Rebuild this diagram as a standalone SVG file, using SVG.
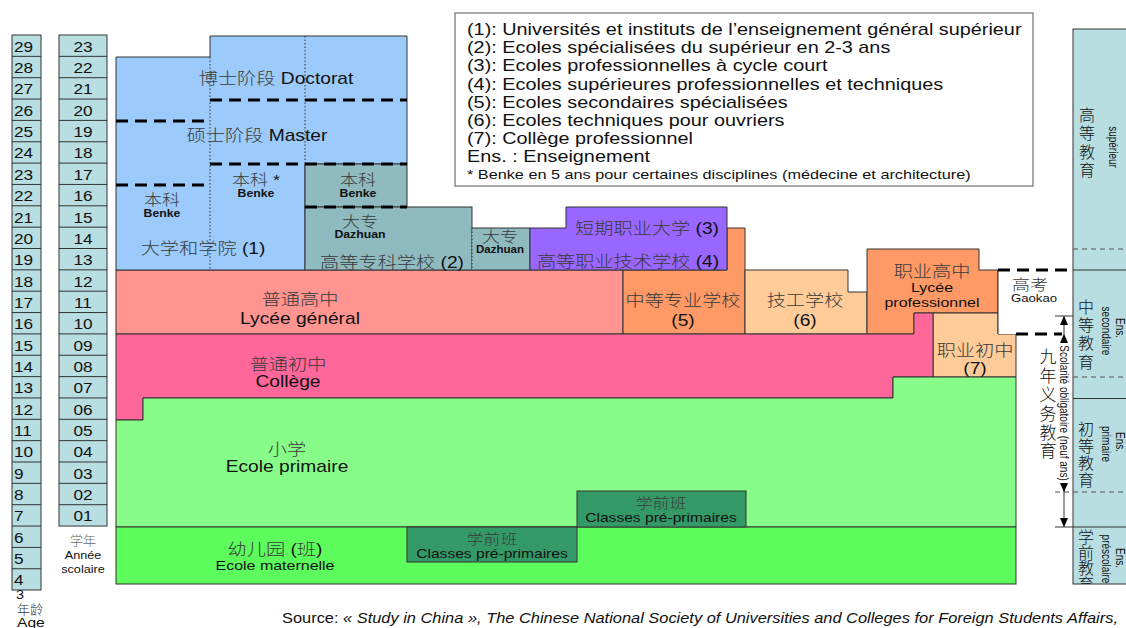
<svg xmlns="http://www.w3.org/2000/svg" width="1126" height="628" viewBox="0 0 1126 628">
<style>
text { font-family: "Liberation Sans", "Noto Sans CJK SC", sans-serif; fill: #111; }
.m { text-anchor: middle; }
.k { fill: #3a3a3a; font-weight: 300; }
.b { font-weight: bold; }
.f16 { font-size: 16px; }
.f15 { font-size: 15px; }
.f14 { font-size: 14px; }
.f13 { font-size: 13px; }
.f11 { font-size: 11px; }
.f10 { font-size: 10px; }
.blk { stroke: #333; stroke-width: 1; }
.col { fill: #b8dee2; stroke: #333; stroke-width: 1; }
.dash { stroke: #000; stroke-width: 3; stroke-dasharray: 12 7; fill: none; }
.dot { stroke: #333; stroke-width: 1; stroke-dasharray: 1.5 2; fill: none; }
.gdash { stroke: #555; stroke-width: 1; stroke-dasharray: 5 4; fill: none; }
.line { stroke: #333; stroke-width: 1; fill: none; }
</style>
<defs>
<clipPath id="rc"><rect x="1073" y="29" width="53" height="555"/></clipPath>
</defs>
<rect width="1126" height="628" fill="#fff"/>

<!-- Age column -->
<g id="age-column">
<rect class="col" x="12" y="35" width="29" height="555"/>
<path class="line" d="M12 56.35H41M12 77.7H41M12 99.05H41M12 120.4H41M12 141.75H41M12 163.1H41M12 184.45H41M12 205.8H41M12 227.15H41M12 248.5H41M12 269.85H41M12 291.2H41M12 312.55H41M12 333.9H41M12 355.25H41M12 376.6H41M12 397.95H41M12 419.3H41M12 440.65H41M12 462H41M12 483.35H41M12 504.7H41M12 526.05H41M12 547.4H41M12 568.75H41"/>
<g class="f14">
<text transform="translate(14 51.5) scale(1.23 1)">29</text>
<text transform="translate(14 73) scale(1.23 1)">28</text>
<text transform="translate(14 94) scale(1.23 1)">27</text>
<text transform="translate(14 115.5) scale(1.23 1)">26</text>
<text transform="translate(14 137) scale(1.23 1)">25</text>
<text transform="translate(14 158) scale(1.23 1)">24</text>
<text transform="translate(14 179.5) scale(1.23 1)">23</text>
<text transform="translate(14 201) scale(1.23 1)">22</text>
<text transform="translate(14 222.5) scale(1.23 1)">21</text>
<text transform="translate(14 243.5) scale(1.23 1)">20</text>
<text transform="translate(14 265) scale(1.23 1)">19</text>
<text transform="translate(14 286.5) scale(1.23 1)">18</text>
<text transform="translate(14 307.5) scale(1.23 1)">17</text>
<text transform="translate(14 329) scale(1.23 1)">16</text>
<text transform="translate(14 350.5) scale(1.23 1)">15</text>
<text transform="translate(14 371.5) scale(1.23 1)">14</text>
<text transform="translate(14 393) scale(1.23 1)">13</text>
<text transform="translate(14 414.5) scale(1.23 1)">12</text>
<text transform="translate(14 436) scale(1.23 1)">11</text>
<text transform="translate(14 457) scale(1.23 1)">10</text>
<text transform="translate(14 478.5) scale(1.23 1)">9</text>
<text transform="translate(14 500) scale(1.23 1)">8</text>
<text transform="translate(14 521) scale(1.23 1)">7</text>
<text transform="translate(14 542.5) scale(1.23 1)">6</text>
<text transform="translate(14 564) scale(1.23 1)">5</text>
<text transform="translate(14 585) scale(1.23 1)">4</text>
</g>
<text class="f13" style="font-size:12px" transform="translate(16 599) scale(1.2 1)">3</text>
<text class="f13 k" x="17" y="614">年龄</text>
<text class="f13" transform="translate(17 627) scale(1.2 1)">Age</text>
</g>

<!-- Grade column -->
<g id="grade-column">
<rect class="col" x="59" y="35" width="48" height="491.05"/>
<path class="line" d="M59 56.35H107M59 77.7H107M59 99.05H107M59 120.4H107M59 141.75H107M59 163.1H107M59 184.45H107M59 205.8H107M59 227.15H107M59 248.5H107M59 269.85H107M59 291.2H107M59 312.55H107M59 333.9H107M59 355.25H107M59 376.6H107M59 397.95H107M59 419.3H107M59 440.65H107M59 462H107M59 483.35H107M59 504.7H107"/>
<g class="f14 m">
<text transform="translate(83 51.5) scale(1.23 1)">23</text>
<text transform="translate(83 73) scale(1.23 1)">22</text>
<text transform="translate(83 94) scale(1.23 1)">21</text>
<text transform="translate(83 115.5) scale(1.23 1)">20</text>
<text transform="translate(83 137) scale(1.23 1)">19</text>
<text transform="translate(83 158) scale(1.23 1)">18</text>
<text transform="translate(83 179.5) scale(1.23 1)">17</text>
<text transform="translate(83 201) scale(1.23 1)">16</text>
<text transform="translate(83 222.5) scale(1.23 1)">15</text>
<text transform="translate(83 243.5) scale(1.23 1)">14</text>
<text transform="translate(83 265) scale(1.23 1)">13</text>
<text transform="translate(83 286.5) scale(1.23 1)">12</text>
<text transform="translate(83 307.5) scale(1.23 1)">11</text>
<text transform="translate(83 329) scale(1.23 1)">10</text>
<text transform="translate(83 350.5) scale(1.23 1)">09</text>
<text transform="translate(83 371.5) scale(1.23 1)">08</text>
<text transform="translate(83 393) scale(1.23 1)">07</text>
<text transform="translate(83 414.5) scale(1.23 1)">06</text>
<text transform="translate(83 436) scale(1.23 1)">05</text>
<text transform="translate(83 457) scale(1.23 1)">04</text>
<text transform="translate(83 478.5) scale(1.23 1)">03</text>
<text transform="translate(83 500) scale(1.23 1)">02</text>
<text transform="translate(83 521) scale(1.23 1)">01</text>
</g>
<text class="f13 m k" x="83" y="545" fill-opacity="0.8">学年</text>
<text class="f11 m" transform="translate(83 559) scale(1.15 1)">Année</text>
<text class="f11 m" transform="translate(83 573) scale(1.15 1)">scolaire</text>
</g>

<!-- Lycee general (drawn first so upper labels stay on top) -->
<g id="lycee">
<rect class="blk" fill="#ff9490" x="116" y="270" width="507" height="64"/>
<text class="f16 m k" transform="translate(300 305) scale(1.2 1)">普通高中</text>
<text class="f16 m" transform="translate(300 324) scale(1.2 1)">Lycée général</text>
</g>

<!-- Higher education: universities (1) -->
<g id="universites">
<polygon class="blk" fill="#9ccafb" points="116,57 210,57 210,36 407,36 407,164 305,164 305,270 116,270"/>
<path class="dot" d="M210 57V270M305 36V164"/>
<text class="f16 m" transform="translate(276 84) scale(1.2 1)"><tspan class="k">博士阶段</tspan> Doctorat</text>
<text class="f16 m" transform="translate(257 141) scale(1.2 1)"><tspan class="k">硕士阶段</tspan> Master</text>
<text class="f15 m k" transform="translate(162 205) scale(1.2 1)">本科</text>
<text class="f10 m b" transform="translate(162 217) scale(1.23 1)">Benke</text>
<text class="f15 m" transform="translate(256 185) scale(1.2 1)"><tspan class="k">本科</tspan> *</text>
<text class="f10 m b" transform="translate(256 197) scale(1.23 1)">Benke</text>
<text class="f16 m" transform="translate(203 254) scale(1.2 1)"><tspan class="k">大学和学院</tspan> (1)</text>
</g>

<!-- Benke (gray) -->
<g id="benke-gray">
<rect class="blk" fill="#8fbabf" x="305" y="164" width="102" height="43"/>
<text class="f15 m k" transform="translate(358 185) scale(1.2 1)">本科</text>
<text class="f10 m b" transform="translate(358 197) scale(1.23 1)">Benke</text>
</g>

<!-- Gaozhuan (2) -->
<g id="gaozhuan">
<rect class="blk" fill="#8fbabf" x="305" y="207" width="167" height="63"/>
<text class="f15 m k" transform="translate(360 227) scale(1.2 1)">大专</text>
<text class="f10 m b" transform="translate(360 238) scale(1.23 1)">Dazhuan</text>
<text class="f16 m" transform="translate(392 268) scale(1.2 1)"><tspan class="k">高等专科学校</tspan> (2)</text>
</g>

<!-- Dazhuan small -->
<g id="dazhuan">
<rect fill="#8fbabf" x="472" y="228" width="58" height="42"/>
<path class="line" d="M472 228H530V270H472"/>
<path class="dot" d="M472 228V270"/>
<text class="f15 m k" transform="translate(500 242) scale(1.2 1)">大专</text>
<text class="f10 m b" transform="translate(500 253) scale(1.15 1)">Dazhuan</text>
</g>

<!-- Orange (5) -->
<g id="zhongzhuan">
<polygon class="blk" fill="#ff9966" points="623,270 727,270 727,228 745,228 745,334 623,334"/>
<text class="f16 m k" transform="translate(683 306) scale(1.2 1)">中等专业学校</text>
<text class="f16 m" transform="translate(683 326) scale(1.2 1)">(5)</text>
</g>

<!-- Purple (3)(4) -->
<g id="zhiye-daxue">
<polygon class="blk" fill="#9966ff" points="530,228 566,228 566,207 727,207 727,270 530,270"/>
<text class="f16 m" transform="translate(647 234) scale(1.2 1)"><tspan class="k">短期职业大学</tspan> (3)</text>
<text class="f16 m" transform="translate(628 267) scale(1.2 1)"><tspan class="k">高等职业技术学校</tspan> (4)</text>
</g>

<!-- Light orange (6) -->
<g id="jigong">
<polygon class="blk" fill="#ffcc99" points="745,270 848,270 848,292 867,292 867,334 745,334"/>
<text class="f16 m k" transform="translate(805 306) scale(1.2 1)">技工学校</text>
<text class="f16 m" transform="translate(805 326) scale(1.2 1)">(6)</text>
</g>

<!-- Lycee professionnel -->
<g id="zhiye-gaozhong">
<polygon class="blk" fill="#ff9966" points="867,249 979,249 979,270 998,270 998,313 914,313 914,334 867,334"/>
<text class="f16 m k" transform="translate(932 277) scale(1.2 1)">职业高中</text>
<text class="f13 m" transform="translate(932 292) scale(1.23 1)">Lycée</text>
<text class="f13 m" transform="translate(932 307) scale(1.23 1)">professionnel</text>
</g>

<!-- College professionnel (7) -->
<g id="zhiye-chuzhong">
<polygon class="blk" fill="#ffcc99" points="933,313 998,313 998,334 1016,334 1016,377 933,377"/>
<text class="f16 m k" transform="translate(975 356) scale(1.2 1)">职业初中</text>
<text class="f16 m" transform="translate(975 374) scale(1.2 1)">(7)</text>
</g>

<!-- College -->
<g id="college">
<polygon class="blk" fill="#ff6699" points="116,334 914,334 914,313 933,313 933,377 893,377 893,398 143,398 143,420 116,420"/>
<text class="f16 m k" transform="translate(288 370) scale(1.2 1)">普通初中</text>
<text class="f16 m" transform="translate(288 387) scale(1.2 1)">Collège</text>
</g>

<!-- Primary -->
<g id="primaire">
<polygon class="blk" fill="#88fc88" points="116,420 143,420 143,398 893,398 893,377 1016,377 1016,527 116,527"/>
<text class="f16 m k" transform="translate(287 455) scale(1.2 1)">小学</text>
<text class="f16 m" transform="translate(287 472) scale(1.2 1)">Ecole primaire</text>
</g>

<!-- Kindergarten -->
<g id="maternelle">
<rect class="blk" fill="#5cfc5c" x="116" y="527" width="900" height="57"/>
<text class="f16 m" transform="translate(275 555) scale(1.2 1)"><tspan class="k">幼儿园</tspan> (<tspan class="k">班</tspan>)</text>
<text class="f13 m" transform="translate(275 570) scale(1.23 1)">Ecole maternelle</text>
</g>

<!-- Pre-primary classes -->
<g id="preprimaire-1">
<rect class="blk" fill="#339966" x="407" y="527" width="170" height="35"/>
<text class="f14 m k" transform="translate(492 544) scale(1.2 1)">学前班</text>
<text class="f13 m" transform="translate(492 558) scale(1.2 1)">Classes pré-primaires</text>
</g>
<g id="preprimaire-2">
<rect class="blk" fill="#339966" x="577" y="491" width="169" height="36"/>
<text class="f14 m k" transform="translate(661 508) scale(1.2 1)">学前班</text>
<text class="f13 m" transform="translate(661 522) scale(1.2 1)">Classes pré-primaires</text>
</g>

<!-- Gaokao -->
<g id="gaokao">
<rect fill="#fff" x="998" y="270" width="75" height="64"/>
<path class="line" d="M998 270V334"/>
<text class="f15 m k" transform="translate(1030 290) scale(1.2 1)">高考</text>
<text class="f11 m" transform="translate(1034 302) scale(1.2 1)">Gaokao</text>
</g>

<!-- Separators (dashed) -->
<g id="separators">
<path class="dash" d="M210 100H407M116 121H210M210 164H407M116 185H210M305 207H407M998 270H1073M1016 334H1062"/>
</g>

<!-- Right column: education levels -->
<g id="levels">
<rect class="col" x="1073" y="29" width="60" height="555"/>
<path class="line" d="M1073 270H1126M1073 398.5H1126M1073 527H1126"/>
<path class="gdash" d="M1073 249H1126M1073 377H1126M1055 492H1126"/>
<g clip-path="url(#rc)">
<g class="f16 m k">
<text x="1087" y="121">高</text><text x="1087" y="139">等</text><text x="1087" y="158">教</text><text x="1087" y="176">育</text>
<text x="1086" y="313">中</text><text x="1086" y="331">等</text><text x="1086" y="349">教</text><text x="1086" y="368">育</text>
<text x="1086" y="435">初</text><text x="1086" y="452">等</text><text x="1086" y="469">教</text><text x="1086" y="486">育</text>
<text x="1086" y="543">学</text><text x="1086" y="559">前</text><text x="1086" y="574">教</text><text x="1086" y="590">育</text>
</g>
<g class="f10 m">
<text transform="translate(1109 147) rotate(90) scale(1 1.23)">supérieur</text>
<text transform="translate(1116 328) rotate(90) scale(1 1.23)">Ens.</text>
<text transform="translate(1102 331) rotate(90) scale(1 1.23)">secondaire</text>
<text transform="translate(1116 442) rotate(90) scale(1 1.23)">Ens.</text>
<text transform="translate(1102 444) rotate(90) scale(1 1.23)">primaire</text>
<text transform="translate(1116 558) rotate(90) scale(1 1.23)">Ens.</text>
<text transform="translate(1102 559) rotate(90) scale(1 1.23)">préscolaire</text>
</g>
</g>
</g>

<!-- Compulsory schooling marker -->
<g id="connectors">
<path class="line" d="M1055 316H1073M1064 316V342M1064 485V527M1055 527H1073"/>
<polygon fill="#000" points="1064,316 1060,325 1068,325"/>
<polygon fill="#000" points="1064,334 1060,343 1068,343"/>
<polygon fill="#000" points="1064,492 1060,483 1068,483"/>
<polygon fill="#000" points="1064,527 1060,518 1068,518"/>
</g>
<g id="scolarite-obligatoire">
<text class="f10 m" transform="translate(1060 413) rotate(90) scale(1 1.2)">Scolarité obligatoire (neuf ans)</text>
<g class="m k" style="font-size:17px">
<text x="1048" y="363">九</text><text x="1048" y="382">年</text><text x="1048" y="401">义</text><text x="1048" y="420">务</text><text x="1048" y="439">教</text><text x="1048" y="457">育</text>
</g>
</g>

<!-- Legend -->
<g id="legend">
<rect x="455" y="13" width="578" height="173" fill="#fff" stroke="#555" stroke-width="1"/>
<g class="f16">
<text transform="translate(467 35) scale(1.24 1)">(1): Universités et instituts de l’enseignement général supérieur</text>
<text transform="translate(467 53) scale(1.24 1)">(2): Ecoles spécialisées du supérieur en 2-3 ans</text>
<text transform="translate(467 71) scale(1.24 1)">(3): Ecoles professionnelles à cycle court</text>
<text transform="translate(467 90) scale(1.24 1)">(4): Ecoles supérieures professionnelles et techniques</text>
<text transform="translate(467 108) scale(1.24 1)">(5): Ecoles secondaires spécialisées</text>
<text transform="translate(467 126) scale(1.24 1)">(6): Ecoles techniques pour ouvriers</text>
<text transform="translate(467 144) scale(1.24 1)">(7): Collège professionnel</text>
<text transform="translate(467 162) scale(1.24 1)">Ens. : Enseignement</text>
</g>
<text class="f13" transform="translate(467 179) scale(1.25 1)">* Benke en 5 ans pour certaines disciplines (médecine et architecture)</text>
</g>

<!-- Source -->
<text class="f14" x="282" y="623" fill="#222" textLength="836" lengthAdjust="spacingAndGlyphs">Source: <tspan font-style="italic">« Study in China », The Chinese National Society of Universities and Colleges for Foreign Students Affairs,</tspan></text>
</svg>
